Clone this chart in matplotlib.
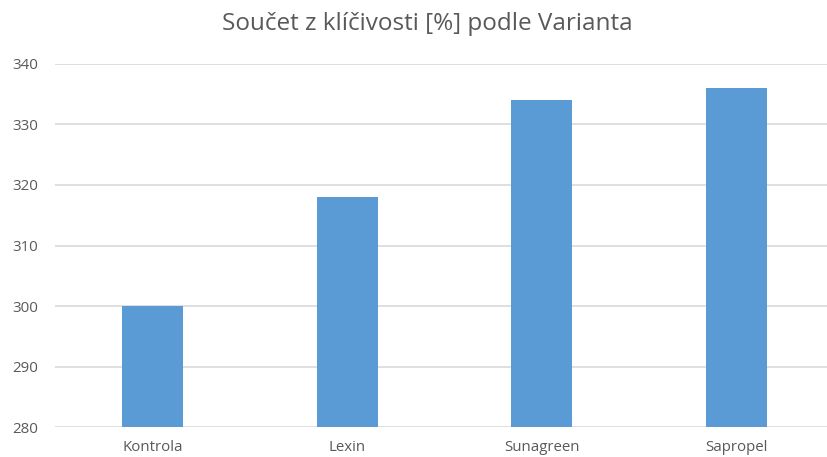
import matplotlib.pyplot as plt

# data
varianty = ['Kontrola', 'Lexin', 'Sunagreen', 'Sapropel']
klicivost = [300, 318, 334, 336]
y_ticks = [280, 290, 300, 310, 320, 330, 340]

plt.rcParams['font.family'] = ['Open Sans', 'DejaVu Sans']

fig = plt.figure(figsize=(8.28, 4.57), dpi=100)
ax = fig.add_axes([55 / 828, 29.7 / 457, 773 / 828, 363.6 / 457])

ax.bar(range(len(varianty)), klicivost, width=0.313, color='#5B9BD5', zorder=3)

ax.set_ylim(280, 340)
ax.set_xlim(-0.5, 3.5 - 6 / 194.8)
ax.set_yticks(y_ticks)
ax.set_xticks(range(len(varianty)))
ax.set_xticklabels(varianty)
ax.yaxis.grid(True, color='#D9D9D9', linewidth=1.2, zorder=0)
for s in ax.spines.values():
    s.set_visible(False)
ax.tick_params(axis='both', length=0, labelsize=10.8, colors='#595959')
ax.tick_params(axis='y', pad=12)
ax.tick_params(axis='x', pad=9)

fig.text(0.516, 0.947, 'Součet z klíčivosti [%] podle Varianta', ha='center', va='center',
         fontsize=17.5, color='#595959')

fig.savefig('out.png', dpi=100)
